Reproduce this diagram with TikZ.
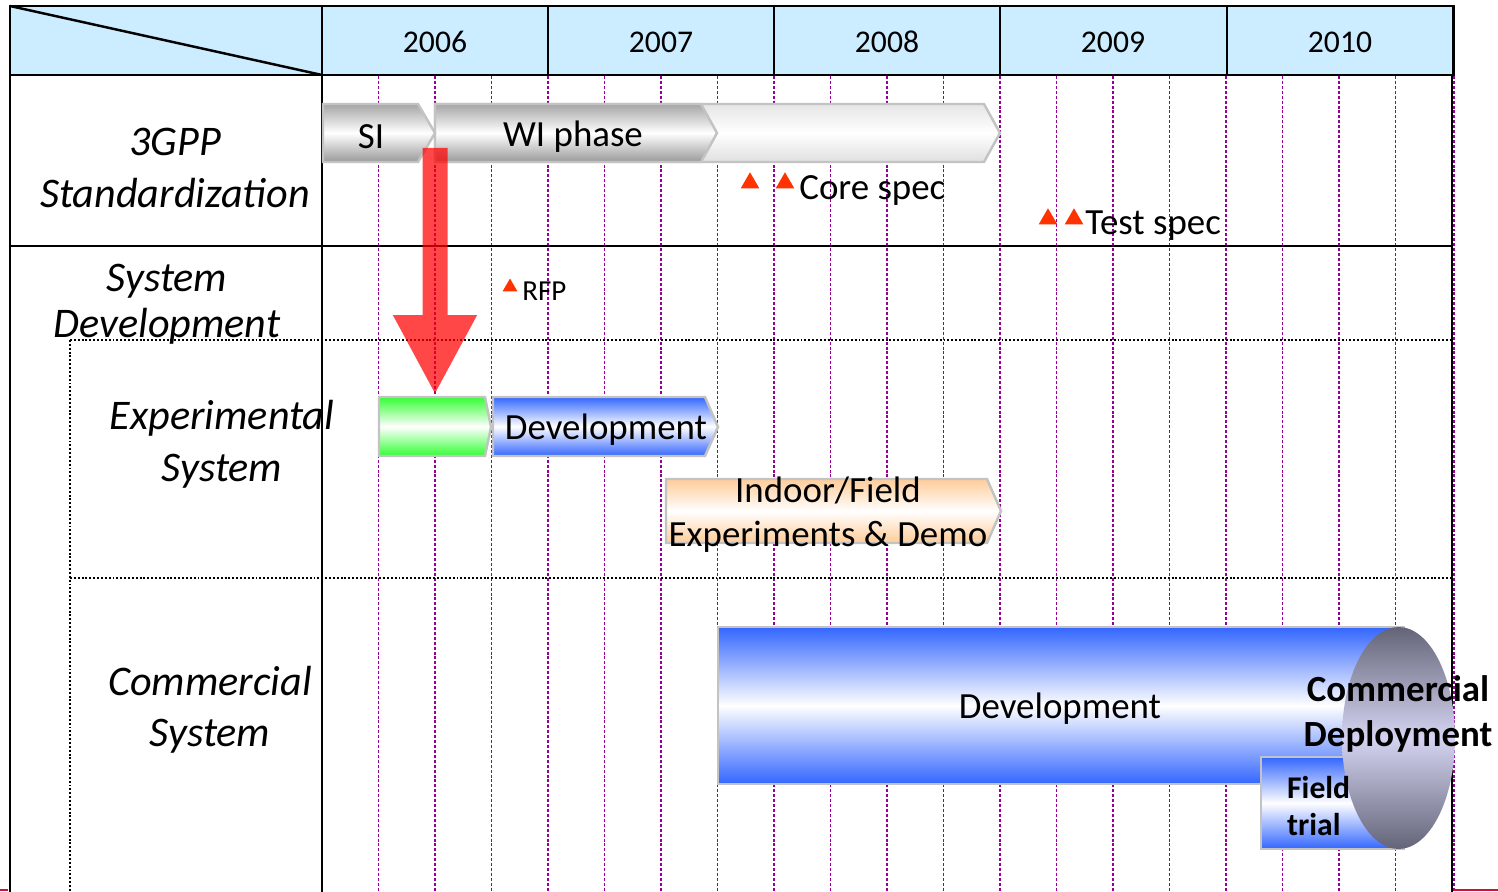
\documentclass[tikz,border=0pt]{standalone}
\usepackage{fontspec}
\setmainfont{Carlito}
\usetikzlibrary{arrows.meta,shapes.geometric}
\definecolor{headblue}{RGB}{204,236,255}
\definecolor{gridpurple}{RGB}{150,0,150}
\definecolor{barline}{RGB}{195,195,195}
\definecolor{barblue}{RGB}{51,102,255}
\definecolor{bargreen}{RGB}{51,255,51}
\definecolor{barpeach}{RGB}{255,204,153}
\definecolor{milered}{RGB}{255,51,0}
\definecolor{elldark}{RGB}{100,100,120}
\definecolor{elllight}{RGB}{212,212,242}
\definecolor{edgecrimson}{RGB}{200,20,60}
\tikzstyle{frameline}=[line width=1.4pt]
\tikzstyle{headbox}=[line width=1.7pt, fill=headblue]
\tikzstyle{qgrid}=[line width=1.1pt, draw=gridpurple, dash pattern=on 1.7pt off 1.1pt]
\tikzstyle{rowsep}=[line width=1.1pt, dash pattern=on 1.1pt off 1.1pt]
\tikzstyle{phase}=[draw=barline, line width=1.4pt]
\tikzstyle{graybar}=[phase, top color=gray!70, bottom color=gray!80, middle color=white]
\tikzstyle{lightbar}=[phase, top color=gray!20, bottom color=gray!25, middle color=white]
\tikzstyle{greenbar}=[phase, top color=bargreen, bottom color=bargreen, middle color=white]
\tikzstyle{bluebar}=[phase, top color=barblue, bottom color=barblue, middle color=white]
\tikzstyle{peachbar}=[phase, top color=barpeach, bottom color=barpeach, middle color=white]
\tikzstyle{deploy}=[top color=elldark, bottom color=elldark, middle color=elllight]
\tikzstyle{year}=[font=\fontsize{18}{22}\selectfont]
\tikzstyle{rowlbl}=[align=center, font=\fontsize{24}{29.5}\selectfont\itshape]
\tikzstyle{lbl}=[align=center, font=\fontsize{21}{25}\selectfont]
\tikzstyle{boldlbl}=[font=\fontsize{21}{25.5}\selectfont\bfseries]
\tikzstyle{mile}=[regular polygon, regular polygon sides=3, fill=milered, inner sep=0pt, minimum size=4.3mm]
\tikzstyle{bigarrow}=[line width=0.5cm, draw=red, -{Triangle[width=1.56cm,length=1.6cm]}]
\begin{document}
\begin{tikzpicture}[x=0.02cm, y=-0.02cm]
	\useasboundingbox (0,0) rectangle (1498,892);
	
	%The header
	\draw[headbox] (10,6) rectangle (1453,75);
	\draw[frameline] (10,6) -- (322,75);
	\draw[frameline] (322,6) -- (322,75) (548,6) -- (548,75) (774,6) -- (774,75)
		(1000,6) -- (1000,75) (1227,6) -- (1227,75);
	\draw (435,42) node[year] (y2006) {2006};
	\draw (661,42) node[year] (y2007) {2007};
	\draw (887,42) node[year] (y2008) {2008};
	\draw (1113,42) node[year] (y2009) {2009};
	\draw (1340,42) node[year] (y2010) {2010};
	
	%The quarter lines
	\draw[qgrid] (378.5,76) -- (378.5,892) (435,76) -- (435,892) (491.5,76) -- (491.5,892)
		(548,76) -- (548,892) (604.5,76) -- (604.5,892) (661,76) -- (661,892)
		(717.5,76) -- (717.5,892) (774,76) -- (774,892) (830.5,76) -- (830.5,892)
		(887,76) -- (887,892) (943.5,76) -- (943.5,892) (1000,76) -- (1000,892)
		(1056.5,76) -- (1056.5,892) (1113,76) -- (1113,892) (1169.5,76) -- (1169.5,892)
		(1226,76) -- (1226,892) (1282.5,76) -- (1282.5,892) (1339,76) -- (1339,892)
		(1395.5,76) -- (1395.5,892) (1454,76) -- (1454,892);
	
	%The frame
	\draw[frameline] (10,75) -- (10,892);
	\draw[frameline] (322,75) -- (322,892);
	\draw[frameline] (1452,75) -- (1452,892);
	\draw[frameline] (10,246) -- (1453,246);
	\draw[rowsep] (70,340) -- (1453,340);
	\draw[rowsep] (70,578) -- (1453,578);
	\draw[rowsep] (70,340) -- (70,892);
	\draw[draw=edgecrimson, line width=1.4pt] (1454,890) -- (1498,890) (0,890) -- (8,890);
	
	%The row labels
	\draw (175,168) node[rowlbl] (std) {3GPP\\Standardization};
	\draw (167,304) node[rowlbl, font=\fontsize{24}{26}\selectfont\itshape] (sysdev) {System\\Development};
	\draw (222,444) node[rowlbl] (expsys) {Experimental\\System};
	\draw (210,710) node[rowlbl, font=\fontsize{24}{29}\selectfont\itshape] (comsys) {Commercial\\System};
	
	%3GPP phases
	\draw[lightbar] (435,104) -- (984,104) -- (1000,133) -- (984,162) -- (435,162) -- cycle;
	\draw[graybar] (435,104) -- (701,104) -- (717,133) -- (701,162) -- (435,162) -- cycle;
	\draw[graybar] (323,104) -- (418,104) -- (435,133) -- (418,162) -- (323,162) -- cycle;
	\draw (371,137) node[lbl] (si) {SI};
	\draw (573,137) node[lbl] (wi) {WI phase};
	
	%Milestones
	\draw (750,183) node[mile] (core1) {};
	\draw (785,183) node[mile] (core2) {};
	\draw (799,199) node[lbl, anchor=base west, inner sep=0pt] (core) {Core spec};
	\draw (1048,219) node[mile] (test1) {};
	\draw (1074,219) node[mile] (test2) {};
	\draw (1085,234) node[lbl, anchor=base west, inner sep=0pt] (test) {Test spec};
	\draw (510,287) node[mile, minimum size=3.4mm] (rfp1) {};
	\draw (522,300) node[anchor=base west, inner sep=0pt, font=\fontsize{16.5}{20}\selectfont] (rfp) {RFP};
	
	%Experimental system
	\draw[greenbar] (379,397) -- (485,397) -- (491,427) -- (485,456) -- (379,456) -- cycle;
	\draw[bluebar] (493,397) -- (705,397) -- (718,427) -- (705,456) -- (493,456) -- cycle;
	\draw (606,430) node[lbl] (expdev) {Development};
	\draw[peachbar] (666,479) -- (987,479) -- (1001,511) -- (987,543) -- (666,543) -- cycle;
	\draw (828,515) node[lbl] (demo) {Indoor/Field\\Experiments \& Demo};
	
	%Commercial system
	\draw[bluebar] (718,627) rectangle (1404,784);
	\draw (1060,709) node[lbl] (comdev) {Development};
	\draw[bluebar] (1261,757) rectangle (1404,849);
	\path[deploy] (1398.5,738) ellipse [x radius=1.13cm, y radius=2.22cm];
	\draw (1281,806) node[anchor=west, align=left, font=\fontsize{18}{21.5}\selectfont\bfseries] (trial) {Field\\trial};
	\draw (1398,714) node[boldlbl, align=center] (deploy) {Commercial\\Deployment};
	
	%The hand-over arrow
	\coordinate (arrtop) at (435,148);
	\coordinate (arrtip) at (435,395);
	\begin{scope}[transparency group, opacity=0.72]
		\draw[bigarrow] (arrtop) -- (arrtip);
	\end{scope}
\end{tikzpicture}
\end{document}
